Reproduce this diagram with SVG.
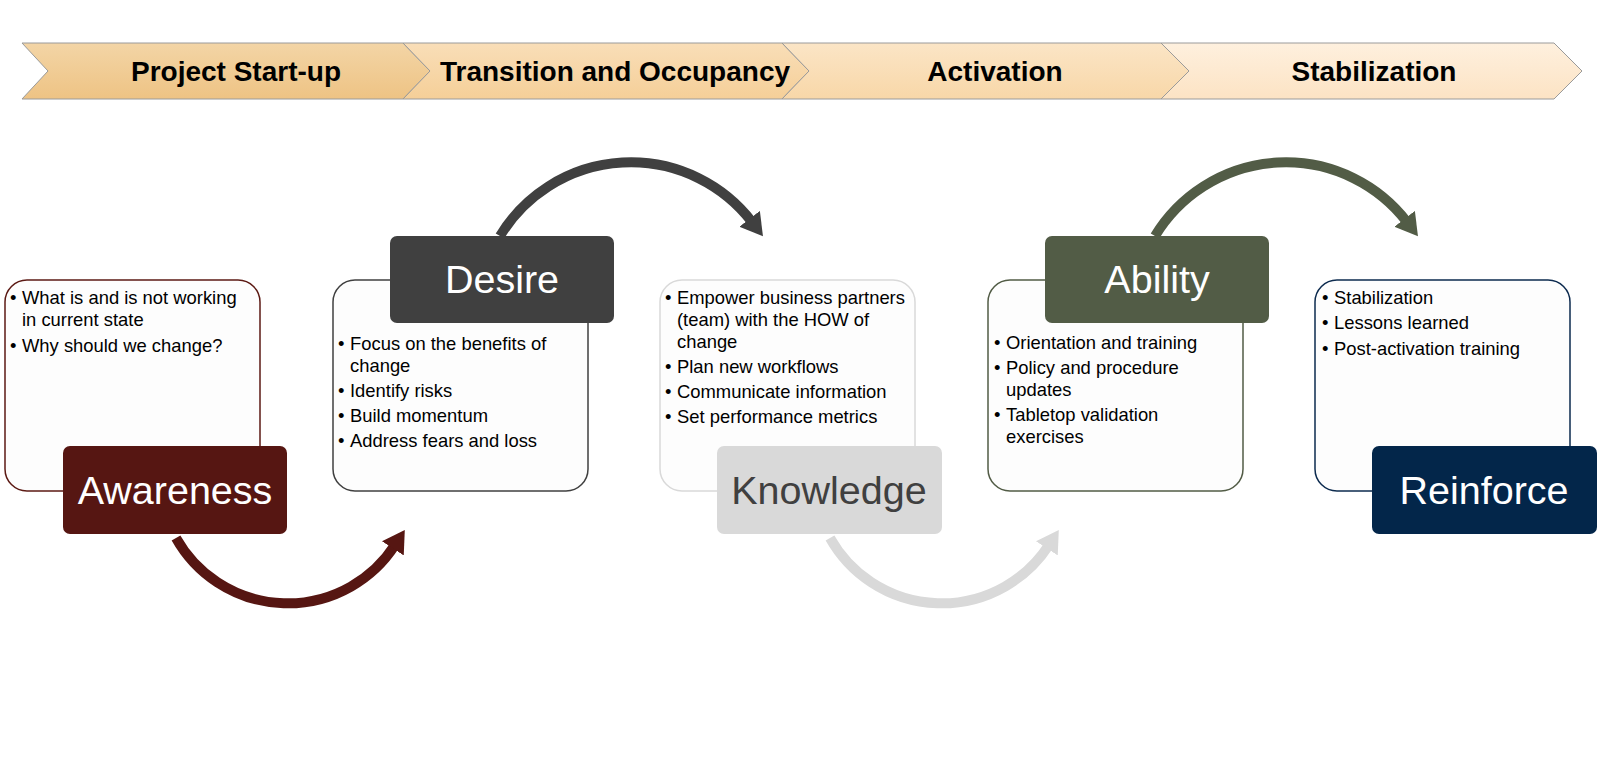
<svg xmlns="http://www.w3.org/2000/svg" width="1600" height="770" viewBox="0 0 1600 770">
<defs>
<linearGradient id="g1" x1="0" y1="0" x2="0" y2="1"><stop offset="0" stop-color="#F3D5A6"/><stop offset="1" stop-color="#EEC384"/></linearGradient>
<linearGradient id="g2" x1="0" y1="0" x2="0" y2="1"><stop offset="0" stop-color="#F9DEB8"/><stop offset="1" stop-color="#F5CF98"/></linearGradient>
<linearGradient id="g3" x1="0" y1="0" x2="0" y2="1"><stop offset="0" stop-color="#FBE5C6"/><stop offset="1" stop-color="#F8D7A8"/></linearGradient>
<linearGradient id="g4" x1="0" y1="0" x2="0" y2="1"><stop offset="0" stop-color="#FEF0DE"/><stop offset="1" stop-color="#FCE3C4"/></linearGradient>
<marker id="mRed" markerUnits="userSpaceOnUse" viewBox="0 0 22 26" markerWidth="22" markerHeight="26" refX="4" refY="13" orient="auto"><path d="M0,0 L22,13 L0,26 z" fill="#561612"/></marker>
<marker id="mDark" markerUnits="userSpaceOnUse" viewBox="0 0 22 26" markerWidth="22" markerHeight="26" refX="4" refY="13" orient="auto"><path d="M0,0 L22,13 L0,26 z" fill="#404040"/></marker>
<marker id="mLight" markerUnits="userSpaceOnUse" viewBox="0 0 22 26" markerWidth="22" markerHeight="26" refX="4" refY="13" orient="auto"><path d="M0,0 L22,13 L0,26 z" fill="#D9D9D9"/></marker>
<marker id="mOlive" markerUnits="userSpaceOnUse" viewBox="0 0 22 26" markerWidth="22" markerHeight="26" refX="4" refY="13" orient="auto"><path d="M0,0 L22,13 L0,26 z" fill="#525C46"/></marker>
</defs>
<style>
.chev{stroke:#9a9a9a;stroke-width:1}
.phase{font-family:"Liberation Sans",Arial,sans-serif;font-weight:bold;font-size:28px;fill:#000;text-anchor:middle}
.box{fill:#FDFDFD;stroke-width:1.5}
.body{font-family:"Liberation Sans",Arial,sans-serif;font-size:18.4px;fill:#000}
.lbl{font-family:"Liberation Sans",Arial,sans-serif;font-size:39.5px;fill:#fff;text-anchor:middle}
.arc{fill:none;stroke-width:10}
</style>
<rect width="1600" height="770" fill="#fff"/>
<g id="banner">
<path class="chev" d="M22,43 L403,43 L430,71 L403,99 L22,99 L48,71 Z" fill="url(#g1)"/>
<path class="chev" d="M403,43 L782,43 L809,71 L782,99 L403,99 L430,71 Z" fill="url(#g2)"/>
<path class="chev" d="M782,43 L1161,43 L1189,71 L1161,99 L782,99 L809,71 Z" fill="url(#g3)"/>
<path class="chev" d="M1161,43 L1554,43 L1582,71 L1554,99 L1161,99 L1189,71 Z" fill="url(#g4)"/>
<text class="phase" x="236" y="81">Project Start-up</text>
<text class="phase" x="615" y="81">Transition and Occupancy</text>
<text class="phase" x="995" y="81">Activation</text>
<text class="phase" x="1374" y="81">Stabilization</text>
</g>
<g id="connectors">
<path class="arc" stroke="#561612" d="M176,538 A128 128 0 0 0 395,545" marker-end="url(#mRed)"/>
<path class="arc" stroke="#404040" d="M500,236 A153 153 0 0 1 752,222" marker-end="url(#mDark)"/>
<path class="arc" stroke="#D9D9D9" d="M830,538 A128 128 0 0 0 1049,545" marker-end="url(#mLight)"/>
<path class="arc" stroke="#525C46" d="M1155,236 A153 153 0 0 1 1407,222" marker-end="url(#mOlive)"/>
</g>
<g id="awareness">
<rect class="box" x="5" y="280" width="255" height="211" rx="22" stroke="#5C1A14"/>
<text class="body"><tspan x="10" y="304">•</tspan><tspan x="22" y="304">What is and is not working</tspan><tspan x="22" y="326">in current state</tspan><tspan x="10" y="352">•</tspan><tspan x="22" y="352">Why should we change?</tspan></text>
<rect x="63" y="446" width="224" height="88" rx="7" fill="#561612"/>
<text class="lbl" x="175" y="504">Awareness</text>
</g>
<g id="desire">
<rect class="box" x="333" y="280" width="255" height="211" rx="22" stroke="#404040"/>
<text class="body"><tspan x="338" y="350">•</tspan><tspan x="350" y="350">Focus on the benefits of</tspan><tspan x="350" y="372">change</tspan><tspan x="338" y="397">•</tspan><tspan x="350" y="397">Identify risks</tspan><tspan x="338" y="422">•</tspan><tspan x="350" y="422">Build momentum</tspan><tspan x="338" y="447">•</tspan><tspan x="350" y="447">Address fears and loss</tspan></text>
<rect x="390" y="236" width="224" height="87" rx="7" fill="#404040"/>
<text class="lbl" x="502" y="293">Desire</text>
</g>
<g id="knowledge">
<rect class="box" x="660" y="280" width="255" height="211" rx="22" stroke="#D9D9D9"/>
<text class="body"><tspan x="665" y="304">•</tspan><tspan x="677" y="304">Empower business partners</tspan><tspan x="677" y="326">(team) with the HOW of</tspan><tspan x="677" y="348">change</tspan><tspan x="665" y="373">•</tspan><tspan x="677" y="373">Plan new workflows</tspan><tspan x="665" y="398">•</tspan><tspan x="677" y="398">Communicate information</tspan><tspan x="665" y="423">•</tspan><tspan x="677" y="423">Set performance metrics</tspan></text>
<rect x="717" y="446" width="225" height="88" rx="7" fill="#D9D9D9"/>
<text class="lbl" x="829" y="504" style="fill:#404040">Knowledge</text>
</g>
<g id="ability">
<rect class="box" x="988" y="280" width="255" height="211" rx="22" stroke="#525C46"/>
<text class="body"><tspan x="994" y="349">•</tspan><tspan x="1006" y="349">Orientation and training</tspan><tspan x="994" y="374">•</tspan><tspan x="1006" y="374">Policy and procedure</tspan><tspan x="1006" y="396">updates</tspan><tspan x="994" y="421">•</tspan><tspan x="1006" y="421">Tabletop validation</tspan><tspan x="1006" y="443">exercises</tspan></text>
<rect x="1045" y="236" width="224" height="87" rx="7" fill="#525C46"/>
<text class="lbl" x="1157" y="293">Ability</text>
</g>
<g id="reinforce">
<rect class="box" x="1315" y="280" width="255" height="211" rx="22" stroke="#0D2B4F"/>
<text class="body"><tspan x="1322" y="304">•</tspan><tspan x="1334" y="304">Stabilization</tspan><tspan x="1322" y="329">•</tspan><tspan x="1334" y="329">Lessons learned</tspan><tspan x="1322" y="355">•</tspan><tspan x="1334" y="355">Post-activation training</tspan></text>
<rect x="1372" y="446" width="225" height="88" rx="7" fill="#03264A"/>
<text class="lbl" x="1484" y="504">Reinforce</text>
</g>
</svg>
